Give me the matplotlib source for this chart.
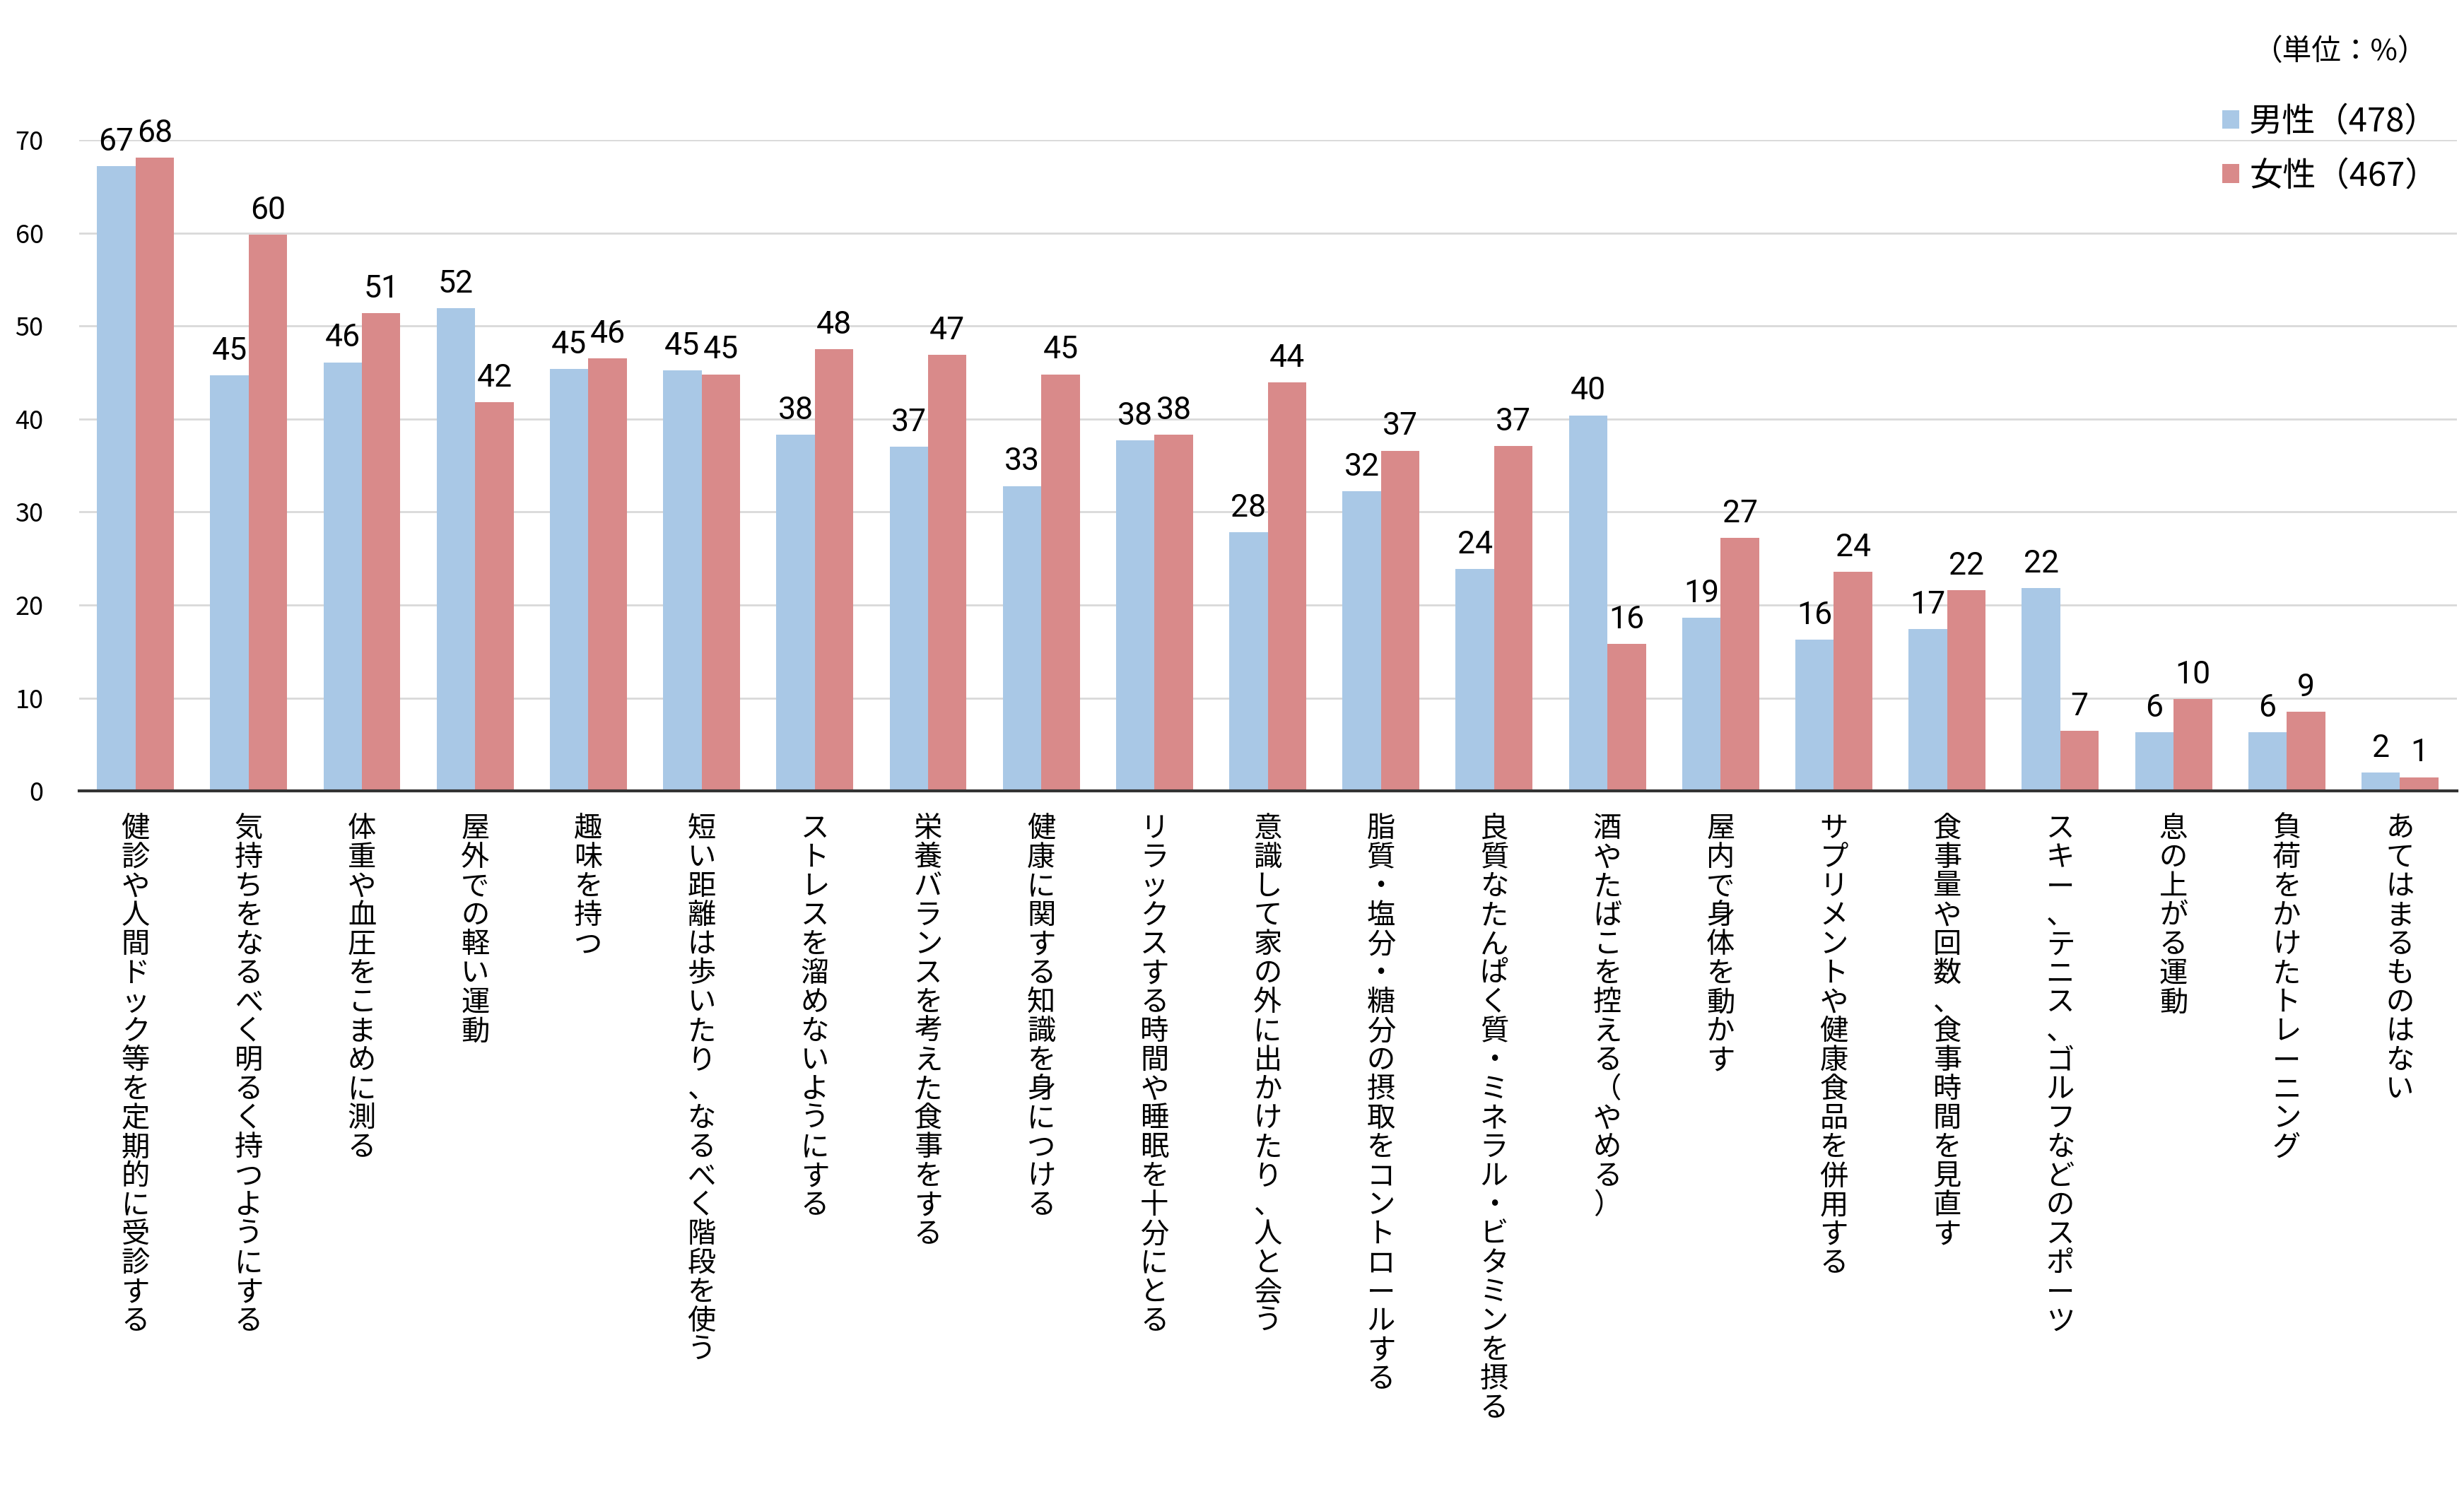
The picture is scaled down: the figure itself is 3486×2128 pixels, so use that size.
import matplotlib
matplotlib.use("Agg")
import matplotlib.pyplot as plt
import numpy as np

categories = ["健診や人間ドック等を定期的に受診する","気持ちをなるべく明るく持つようにする","体重や血圧をこまめに測る","屋外での軽い運動","趣味を持つ",
"短い距離は歩いたり、なるべく階段を使う","ストレスを溜めないようにする","栄養バランスを考えた食事をする","健康に関する知識を身につける",
"リラックスする時間や睡眠を十分にとる","意識して家の外に出かけたり、人と会う","脂質・塩分・糖分の摂取をコントロールする","良質なたんぱく質・ミネラル・ビタミンを摂る",
"酒やたばこを控える（やめる）","屋内で身体を動かす","サプリメントや健康食品を併用する","食事量や回数、食事時間を見直す","スキー、テニス、ゴルフなどのスポーツ",
"息の上がる運動","負荷をかけたトレーニング","あてはまるものはない"]
male = [67.2,44.7,46.1,51.9,45.4,45.2,38.3,37.0,32.8,37.7,27.8,32.2,23.9,40.4,18.6,16.3,17.4,21.8,6.3,6.3,2.0]
female = [68.1,59.8,51.4,41.8,46.5,44.8,47.5,46.9,44.8,38.3,43.9,36.6,37.1,15.8,27.2,23.6,21.6,6.5,9.9,8.5,1.5]
male_labels = [67,45,46,52,45,45,38,37,33,38,28,32,24,40,19,16,17,22,6,6,2]
female_labels = [68,60,51,42,46,45,48,47,45,38,44,37,37,16,27,24,22,7,10,9,1]
series_names = ["男性（478）","女性（467）"]

plt.rcParams["font.family"] = "Noto Sans CJK JP"
fig = plt.figure(figsize=(17.43,10.64), dpi=200)
ax = fig.add_axes([0.032,0.474,0.965,0.433])
x = np.arange(len(categories))
w = 0.34
cm, cf = "#a9c8e6", "#d98a8a"
ax.bar(x-w/2, male, w, color=cm, label=series_names[0], zorder=2)
ax.bar(x+w/2, female, w, color=cf, label=series_names[1], zorder=2)
for i in range(len(x)):
    ax.text(x[i]-w/2, male[i]+1, str(male_labels[i]), ha="center", va="bottom", fontsize=16, fontfamily="Roboto")
    ax.text(x[i]+w/2, female[i]+1, str(female_labels[i]), ha="center", va="bottom", fontsize=16, fontfamily="Roboto")
ax.set_xlim(-0.5, len(x)-0.5)
ax.set_ylim(0,70)
ax.set_yticks(range(0,71,10))
ax.tick_params(axis="y", length=0, labelsize=13, pad=18)
ax.tick_params(axis="x", length=0)
ax.set_xticks(x)
ax.set_xticklabels([])
ax.yaxis.grid(True, color="#d9d9d9", linewidth=1, zorder=0)
for s in ["top","right","left"]:
    ax.spines[s].set_visible(False)
ax.spines["bottom"].set_color("#333333"); ax.spines["bottom"].set_linewidth(1.5)
for i, c in enumerate(categories):
    ax.text(x[i], -2.5, "\n".join(c), ha="center", va="top", fontsize=14.5, linespacing=1.0)
ax.legend(loc="upper right", bbox_to_anchor=(1.005,1.1), frameon=False, fontsize=17, handlelength=0.5, handleheight=0.5, handletextpad=0.3, labelspacing=0.6)
fig.text(0.985, 0.975, "（単位：%）", ha="right", va="top", fontsize=15)
fig.savefig("out.png", dpi=200)
